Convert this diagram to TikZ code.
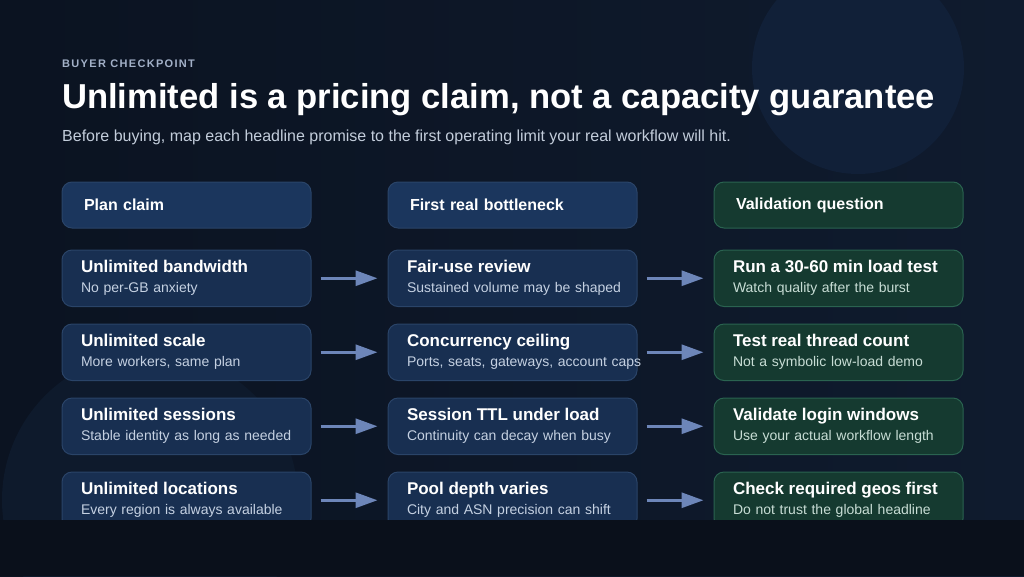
\documentclass[tikz,border=0pt]{standalone}
\usepackage{fontspec}
\setmainfont{Liberation Sans}
\usetikzlibrary{positioning, arrows.meta}
\definecolor{bgleft}{HTML}{0B1321}
\definecolor{bgright}{HTML}{0F1B2E}
\definecolor{glowtop}{HTML}{112038}
\definecolor{glowlow}{HTML}{0E1A2C}
\definecolor{bandbottom}{HTML}{0A101B}
\definecolor{kickertext}{HTML}{A3B1C8}
\definecolor{leadtext}{HTML}{C3CDDB}
\definecolor{cardfill}{HTML}{182F51}
\definecolor{cardline}{HTML}{2A4468}
\definecolor{headfill}{HTML}{1B365D}
\definecolor{greenfill}{HTML}{153A30}
\definecolor{greenline}{HTML}{2A6350}
\definecolor{subblue}{HTML}{C5D1E2}
\definecolor{subgreen}{HTML}{C8DDD5}
\definecolor{arrowblue}{HTML}{6D86B9}
\tikzstyle{card} = [rectangle, rounded corners=10pt, minimum height=56.5pt, text width=211pt, inner xsep=19pt, inner ysep=0pt, align=left, line width=1pt, font=\fontsize{14}{20}\selectfont]
\tikzstyle{claimcard} = [card, draw=cardline, fill=cardfill, text=subblue]
\tikzstyle{checkcard} = [card, draw=greenline, fill=greenfill, text=subgreen]
\tikzstyle{headcard} = [rectangle, rounded corners=10pt, minimum height=46pt, text width=205pt, inner xsep=22pt, align=left, line width=1pt, text=white, font=\fontsize{16}{19}\selectfont\bfseries]
\tikzstyle{headblue} = [headcard, draw=cardline, fill=headfill]
\tikzstyle{headgreen} = [headcard, draw=greenline, fill=greenfill]
\tikzstyle{arrow} = [line width=3pt, draw=arrowblue, -{Triangle[length=22pt,width=15pt]}, shorten <=9pt, shorten >=10pt]
\newcommand{\cardtext}[2]{{\color{white}\fontsize{17}{20}\selectfont\bfseries #1}\\\mbox{#2}}

\begin{document}
\begin{tikzpicture}[x=1pt, y=-1pt]
        % backdrop
        \shade [left color=bgleft, right color=bgright] (0,0) rectangle (1024,576);
        \useasboundingbox (0,0) rectangle (1024,576);
        \fill [glowtop] (858,68) circle (106);
        \fill [glowlow] (150,500) circle (148);

        % heading
        \node (kicker) [anchor=base west, inner sep=0pt, text=kickertext, font=\fontsize{11}{13}\selectfont\bfseries\addfontfeature{LetterSpace=12}] at (62,67) {BUYER CHECKPOINT};
        \node (title) [anchor=base west, inner sep=0pt, text=white, font=\fontsize{34.6}{40}\selectfont\bfseries] at (62,108) {Unlimited is a pricing claim, not a capacity guarantee};
        \node (lead) [anchor=base west, inner sep=0pt, text=leadtext, font=\fontsize{16}{18}\selectfont] at (62,141) {Before buying, map each headline promise to the first operating limit your real workflow will hit.};

        % column heads
        \node (claimhead) [headblue] at (186.5,205) {Plan claim};
        \node (limithead) [headblue, right=76pt of claimhead] {First real bottleneck};
        \node (checkhead) [headgreen, right=76pt of limithead] {Validation question};

        % rows
        \node (claimA) [claimcard, below=21pt of claimhead] {\cardtext{Unlimited bandwidth}{No per-GB anxiety}};
        \node (claimB) [claimcard, below=16.5pt of claimA] {\cardtext{Unlimited scale}{More workers, same plan}};
        \node (claimC) [claimcard, below=16.5pt of claimB] {\cardtext{Unlimited sessions}{Stable identity as long as needed}};
        \node (claimD) [claimcard, below=16.5pt of claimC] {\cardtext{Unlimited locations}{Every region is always available}};

        \node (limitA) [claimcard, below=21pt of limithead] {\cardtext{Fair-use review}{Sustained volume may be shaped}};
        \node (limitB) [claimcard, below=16.5pt of limitA] {\cardtext{Concurrency ceiling}{Ports, seats, gateways, account caps}};
        \node (limitC) [claimcard, below=16.5pt of limitB] {\cardtext{Session TTL under load}{Continuity can decay when busy}};
        \node (limitD) [claimcard, below=16.5pt of limitC] {\cardtext{Pool depth varies}{City and ASN precision can shift}};

        \node (checkA) [checkcard, below=21pt of checkhead] {\cardtext{Run a 30-60 min load test}{Watch quality after the burst}};
        \node (checkB) [checkcard, below=16.5pt of checkA] {\cardtext{Test real thread count}{Not a symbolic low-load demo}};
        \node (checkC) [checkcard, below=16.5pt of checkB] {\cardtext{Validate login windows}{Use your actual workflow length}};
        \node (checkD) [checkcard, below=16.5pt of checkC] {\cardtext{Check required geos first}{Do not trust the global headline}};

        \foreach \r in {A,B,C,D} {
            \draw [arrow] (claim\r) -- (limit\r);
            \draw [arrow] (limit\r) -- (check\r);
        }

        % bottom band hides the last row
        \fill [bandbottom] (0,520) rectangle (1024,576);
    \end{tikzpicture}
\end{document}
